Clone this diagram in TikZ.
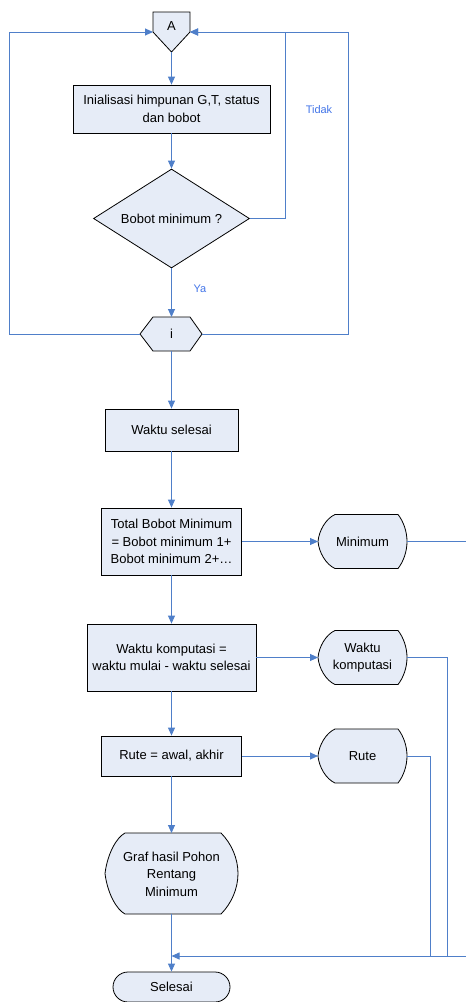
\documentclass[tikz,border=0pt]{standalone}
\usepackage{fontspec}
\setmainfont{Liberation Sans}
\usetikzlibrary{shapes.geometric,arrows.meta}
\definecolor{fillc}{HTML}{E6ECF7}
\definecolor{linec}{HTML}{4F7FC9}
\definecolor{labc}{HTML}{4375E8}
\newcommand{\boxfont}{\fontsize{13}{17.5}\selectfont}
\begin{document}
\begin{tikzpicture}[x=1pt,y=1pt,
  shp/.style={draw=black, fill=fillc, line width=0.8pt},
  box/.style={shp, align=center, font=\boxfont, inner sep=0pt},
  txt/.style={align=center, font=\boxfont, inner sep=0pt},
  conn/.style={draw=linec, line width=0.9pt},
  arr/.style={conn, -{Triangle[length=8pt,width=7pt]}},
  lab/.style={text=labc, font=\fontsize{11}{13}\selectfont},
  smalldisp/.pic={\path[shp] (-27.5,27) -- (35.5,27) .. controls (41,20) and (44.5,10) .. (44.5,0) .. controls (44.5,-10) and (41,-20) .. (35.5,-27) -- (-27.5,-27) .. controls (-36.5,-23) and (-43.5,-11) .. (-44.5,0) .. controls (-43.5,11) and (-36.5,23) .. (-27.5,27) -- cycle;},
  bigdisp/.pic={\path[shp] (-46.5,40.5) -- (49.5,40.5) .. controls (60,30) and (66.5,15) .. (66.5,0) .. controls (66.5,-15) and (60,-30) .. (49.5,-40.5) -- (-46.5,-40.5) .. controls (-55,-36) and (-64,-20) .. (-66.5,0) .. controls (-64,20) and (-55,36) .. (-46.5,40.5) -- cycle;}
]
\useasboundingbox (0,0) rectangle (466,-1002);

% ---- off-page connector A
\path[shp] (153,-12) -- (190,-12) -- (190,-32) -- (171.5,-52) -- (153,-32) -- cycle;
\node[txt] (A) at (171.5,-26) {A};
\coordinate (Aleft) at (153,-32);
\coordinate (Aright) at (190,-32);
\coordinate (Abot) at (171.5,-52);

% ---- init box
\node[box, minimum width=197pt, minimum height=48pt] (init) at (171.5,-109) {Inialisasi himpunan G,T, status\\dan bobot};

% ---- decision
\node[shp, diamond, minimum width=156pt, minimum height=99pt, inner sep=0pt, aspect=1.58, font=\boxfont] (dec) at (171.5,-218.5) {Bobot minimum ?};

% ---- hexagon i
\path[shp] (140,-334) -- (153,-317) -- (190,-317) -- (202,-334) -- (190,-351) -- (153,-351) -- cycle;
\node[txt] (i) at (171.5,-334) {i};
\coordinate (hexL) at (140,-334);
\coordinate (hexR) at (202,-334);
\coordinate (hexT) at (171.5,-317);
\coordinate (hexB) at (171.5,-351);

% ---- process boxes
\node[box, minimum width=133pt, minimum height=42pt] (ws) at (171.5,-430) {Waktu selesai};
\node[box, minimum width=140pt, minimum height=67pt] (tot) at (171.5,-541.5) {Total Bobot Minimum\\= Bobot minimum 1+\\Bobot minimum 2+…};
\node[box, minimum width=169pt, minimum height=67pt] (wk) at (171.5,-657.5) {Waktu komputasi =\\waktu mulai - waktu selesai};
\node[box, minimum width=140pt, minimum height=40pt] (rt) at (171.5,-756) {Rute = awal, akhir};

% ---- display shapes
\pic at (362.5,-541.5) {smalldisp};
\node[txt] (mn) at (362.5,-541.5) {Minimum};
\coordinate (mnW) at (318,-541.5);
\coordinate (mnE) at (407,-541.5);

\pic at (362.5,-657.5) {smalldisp};
\node[txt] (wkd) at (362.5,-657.5) {Waktu\\komputasi};
\coordinate (wkdW) at (318,-657.5);
\coordinate (wkdE) at (407,-657.5);

\pic at (362.5,-756) {smalldisp};
\node[txt] (rtd) at (362.5,-756) {Rute};
\coordinate (rtdW) at (318,-756);
\coordinate (rtdE) at (407,-756);

\pic at (171.5,-873.5) {bigdisp};
\node[txt] (graf) at (171.5,-874) {Graf hasil Pohon\\Rentang\\Minimum};
\coordinate (grafT) at (171.5,-833);
\coordinate (grafB) at (171.5,-914);

% ---- terminator
\node[box, minimum width=117pt, minimum height=30pt, rounded corners=15pt] (sel) at (171.5,-987) {Selesai};

% ---- helper coordinates
\coordinate (LL) at (9,-334);
\coordinate (RR) at (348,-334);
\coordinate (IR) at (285,-218.5);
\coordinate (edgeM) at (466,-541.5);
\coordinate (wkB) at (447,-956);
\coordinate (rtB) at (430,-956);
\coordinate (edgeB) at (466,-956);
\coordinate (merge) at (171.5,-956);

% ---- connectors
\draw[arr] (Abot) -- (init.north);
\draw[arr] (init.south) -- (dec.north);
\draw[arr] (dec.south) -- (hexT);
\draw[arr] (hexL) -- (LL) |- (Aleft);
\draw[arr] (hexR) -- (RR) |- (Aright);
\draw[arr] (dec.east) -- (IR) |- (Aright);
\draw[arr] (hexB) -- (ws.north);
\draw[arr] (ws.south) -- (tot.north);
\draw[arr] (tot.south) -- (wk.north);
\draw[arr] (wk.south) -- (rt.north);
\draw[arr] (rt.south) -- (grafT);
\draw[arr] (grafB) -- (sel.north);
\draw[arr] (tot.east) -- (mnW);
\draw[arr] (wk.east) -- (wkdW);
\draw[arr] (rt.east) -- (rtdW);
\draw[conn] (mnE) -- (edgeM);
\draw[conn] (wkdE) -| (wkB);
\draw[conn] (rtdE) -| (rtB);
\draw[arr] (edgeB) -- (merge);

% ---- labels
\node[lab] (tidak) at (319,-110) {Tidak};
\node[lab] (ya) at (200,-289) {Ya};
\end{tikzpicture}
\end{document}
